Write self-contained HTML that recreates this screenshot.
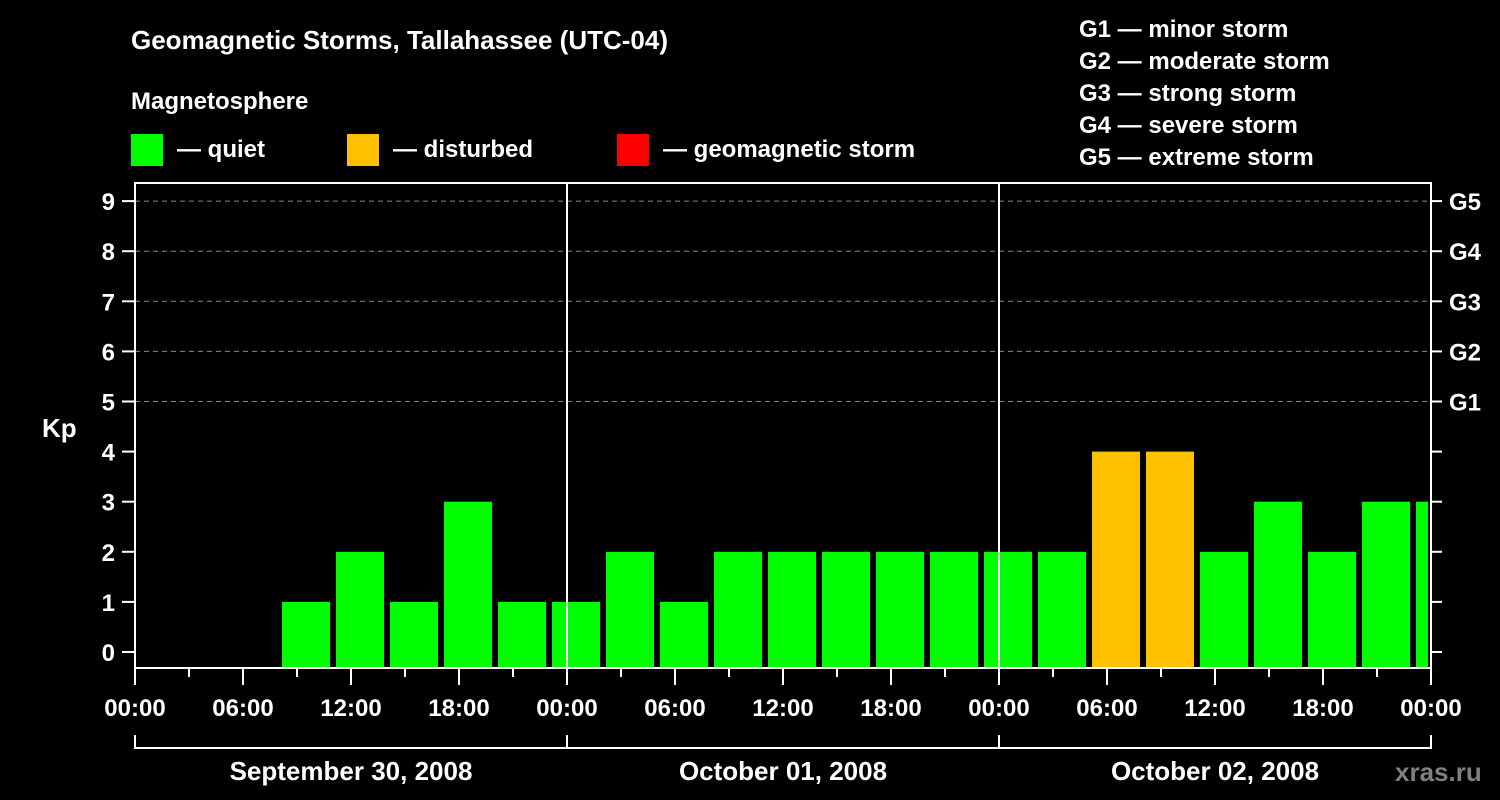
<!DOCTYPE html>
<html><head><meta charset="utf-8"><style>
body{margin:0;background:#000;}
svg{display:block;font-family:"Liberation Sans",Arial,sans-serif;font-weight:bold;}
</style></head><body>
<svg id="chart" width="1500" height="800" viewBox="0 0 1500 800">
<rect width="1500" height="800" fill="#000"/>
<text x="131" y="49" fill="#fff" font-size="26">Geomagnetic Storms, Tallahassee (UTC-04)</text>
<text x="131" y="109" fill="#fff" font-size="24">Magnetosphere</text>
<rect x="131" y="134" width="32" height="32" fill="#00ff00"/>
<text x="177" y="157" fill="#fff" font-size="24">— quiet</text>
<rect x="347" y="134" width="32" height="32" fill="#ffc000"/>
<text x="393" y="157" fill="#fff" font-size="24">— disturbed</text>
<rect x="617" y="134" width="32" height="32" fill="#ff0000"/>
<text x="663" y="157" fill="#fff" font-size="24">— geomagnetic storm</text>
<g fill="#fff" font-size="24">
<text x="1079" y="37">G1 — minor storm</text>
<text x="1079" y="69">G2 — moderate storm</text>
<text x="1079" y="101">G3 — strong storm</text>
<text x="1079" y="133">G4 — severe storm</text>
<text x="1079" y="165">G5 — extreme storm</text>
</g>
<text x="42" y="437" fill="#fff" font-size="26">Kp</text>
<text x="1395" y="781" fill="#808080" font-size="26">xras.ru</text>
<g id="plot"></g>
</svg>
<script>
const kpValues=[1,2,1,3,1,1,2,1,2,2,2,2,2,2,2,4,4,2,3,2,3,3];
const binStartHours=[8,11,14,17,20,23,26,29,32,35,38,41,44,47,50,53,56,59,62,65,68,71];
const yTicks=[0,1,2,3,4,5,6,7,8,9];
const gLabels=["G1","G2","G3","G4","G5"];
const gLevels=[5,6,7,8,9];
const xTickLabels=["00:00","06:00","12:00","18:00","00:00","06:00","12:00","18:00","00:00","06:00","12:00","18:00","00:00"];
const dayLabels=["September 30, 2008","October 01, 2008","October 02, 2008"];
const L=135,R=1431,T=183,B=668,totalH=72;
const x=h=>L+(R-L)*h/totalH;
const y=v=>652-v*50.1;
const ns="http://www.w3.org/2000/svg";
const g=document.getElementById('plot');
function mk(t,a,txt){const e=document.createElementNS(ns,t);for(const k in a)e.setAttribute(k,a[k]);if(txt!==undefined)e.textContent=txt;g.appendChild(e);return e;}
// grid
gLevels.forEach(v=>{
const e=mk('line',{x1:L,x2:R,y1:y(v),y2:y(v),stroke:'#888','stroke-dasharray':'5,4','stroke-width':1});


});
// bars
kpValues.forEach((v,i)=>{
const x0=x(binStartHours[i])+3,x1=Math.min(x(binStartHours[i]+3)-3,R-3);
const c=v>=5?'#ff0000':(v>=4?'#ffc000':'#00ff00');
const e=mk('rect',{x:x0,y:y(v),width:x1-x0,height:B-y(v),fill:c});


});
// day lines
[24,48].forEach(h=>{
const e=mk('line',{x1:x(h),x2:x(h),y1:T,y2:B,stroke:'#fff','stroke-width':2});


});
// frame
const f=mk('rect',{x:L,y:T,width:R-L,height:B-T,fill:'none',stroke:'#fff','stroke-width':2});


// y ticks
yTicks.forEach(v=>{
mk('line',{x1:122,x2:L,y1:y(v),y2:y(v),stroke:'#fff','stroke-width':2});
mk('line',{x1:R,x2:1442,y1:y(v),y2:y(v),stroke:'#fff','stroke-width':2});
const t=mk('text',{x:115,y:y(v)+9,fill:'#fff','font-size':24,'text-anchor':'end'},String(v));


});
gLabels.forEach((s,i)=>{
const t=mk('text',{x:1449,y:y(gLevels[i])+9,fill:'#fff','font-size':24},s);


});
// x ticks
for(let h=0;h<=totalH;h+=3){
const major=h%6===0;
mk('line',{x1:x(h),x2:x(h),y1:B,y2:major?685:677,stroke:'#fff','stroke-width':2});
}
xTickLabels.forEach((s,i)=>{
const t=mk('text',{x:x(i*6),y:716,fill:'#fff','font-size':24,'text-anchor':'middle'},s);


});
// date bracket
mk('line',{x1:L,x2:R,y1:748,y2:748,stroke:'#fff','stroke-width':2});
[0,24,48,72].forEach(h=>mk('line',{x1:x(h),x2:x(h),y1:735,y2:749,stroke:'#fff','stroke-width':2}));
dayLabels.forEach((s,i)=>{
const t=mk('text',{x:x(i*24+12),y:780,fill:'#fff','font-size':26,'text-anchor':'middle'},s);


});
</script>
</body></html>
